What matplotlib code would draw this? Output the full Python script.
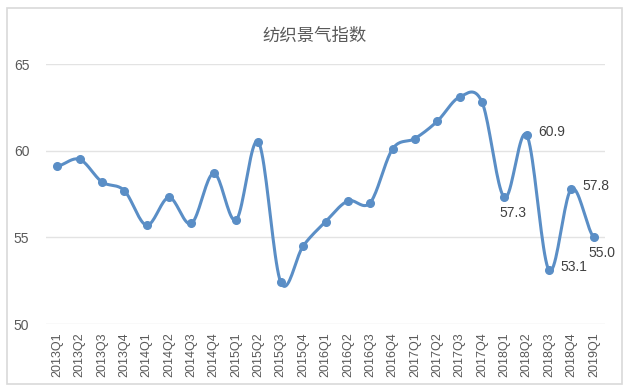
import numpy as np
import matplotlib
matplotlib.use('Agg')
import matplotlib.pyplot as plt
from matplotlib.patches import Rectangle

plt.rcParams['font.family'] = ['Liberation Sans', 'Noto Sans CJK SC', 'DejaVu Sans']

# datos
trimestres = ['2013Q1', '2013Q2', '2013Q3', '2013Q4',
              '2014Q1', '2014Q2', '2014Q3', '2014Q4',
              '2015Q1', '2015Q2', '2015Q3', '2015Q4',
              '2016Q1', '2016Q2', '2016Q3', '2016Q4',
              '2017Q1', '2017Q2', '2017Q3', '2017Q4',
              '2018Q1', '2018Q2', '2018Q3', '2018Q4',
              '2019Q1']
indice = [59.1, 59.5, 58.2, 57.7,
          55.7, 57.3, 55.8, 58.7,
          56.0, 60.5, 52.4, 54.5,
          55.9, 57.1, 57.0, 60.1,
          60.7, 61.7, 63.1, 62.8,
          57.3, 60.9, 53.1, 57.8,
          55.0]
# etiquetas visibles: indice del punto -> posicion
etiquetas = {20: 'below', 21: 'right', 22: 'right', 23: 'right', 24: 'below'}

color_linea = '#5A8EC6'
gris = '#595959'


def suavizar(xs, ys, n=20):
    # curva tipo Catmull-Rom (similar al "smooth line" de Excel)
    xs = np.asarray(xs, float)
    ys = np.asarray(ys, float)
    px = np.concatenate([[2 * xs[0] - xs[1]], xs, [2 * xs[-1] - xs[-2]]])
    py = np.concatenate([[ys[0]], ys, [ys[-1]]])
    out_x, out_y = [], []
    t = np.linspace(0, 1, n, endpoint=False)
    for i in range(1, len(px) - 2):
        for p, out in ((px, out_x), (py, out_y)):
            p0, p1, p2, p3 = p[i - 1], p[i], p[i + 1], p[i + 2]
            m1 = (p2 - p0) / 2
            m2 = (p3 - p1) / 2
            h00 = 2 * t**3 - 3 * t**2 + 1
            h10 = t**3 - 2 * t**2 + t
            h01 = -2 * t**3 + 3 * t**2
            h11 = t**3 - t**2
            out.extend(h00 * p1 + h10 * m1 + h01 * p2 + h11 * m2)
    out_x.append(xs[-1])
    out_y.append(ys[-1])
    return np.array(out_x), np.array(out_y)


fig = plt.figure(figsize=(6.3, 3.91), dpi=100)
fig.patches.append(Rectangle((7 / 630, 7 / 391), 615 / 630, 376 / 391,
                             transform=fig.transFigure, fill=False,
                             edgecolor='#d9d9d9', linewidth=1.2))

ax = fig.add_axes([46 / 630, 1 - 324 / 391, 559 / 630, 260 / 391])

x = np.arange(len(trimestres))
sx, sy = suavizar(x, indice)
ax.plot(sx, sy, color=color_linea, linewidth=2.2, zorder=3)
ax.plot(x, indice, 'o', color=color_linea, markersize=5.5, zorder=4)

for i, pos in etiquetas.items():
    txt = f'{indice[i]:.1f}'
    if pos == 'right':
        ax.annotate(txt, (x[i], indice[i]), xytext=(8, 2), textcoords='offset points',
                    ha='left', va='center', fontsize=10, color='#404040')
    else:
        ax.annotate(txt, (x[i], indice[i]), xytext=(6, -6), textcoords='offset points',
                    ha='center', va='top', fontsize=10, color='#404040')

ax.set_xlim(-0.5, len(trimestres) - 0.5)
ax.set_ylim(50, 65)
ax.set_yticks([50, 55, 60, 65])
ax.set_xticks(x)
ax.set_xticklabels(trimestres, rotation=90, fontsize=9, color=gris)
ax.tick_params(axis='y', labelsize=10, colors=gris, length=0, pad=12)
ax.tick_params(axis='x', length=0, pad=6)
ax.grid(axis='y', color='#e3e3e3', linewidth=1)
ax.set_axisbelow(True)
for s in ax.spines.values():
    s.set_visible(False)

fig.text(0.5, 1 - 36 / 391, '纺织景气指数', ha='center', va='center',
         fontsize=12.5, color=gris)

plt.savefig('out.png', dpi=100, facecolor='white')
plt.close()
